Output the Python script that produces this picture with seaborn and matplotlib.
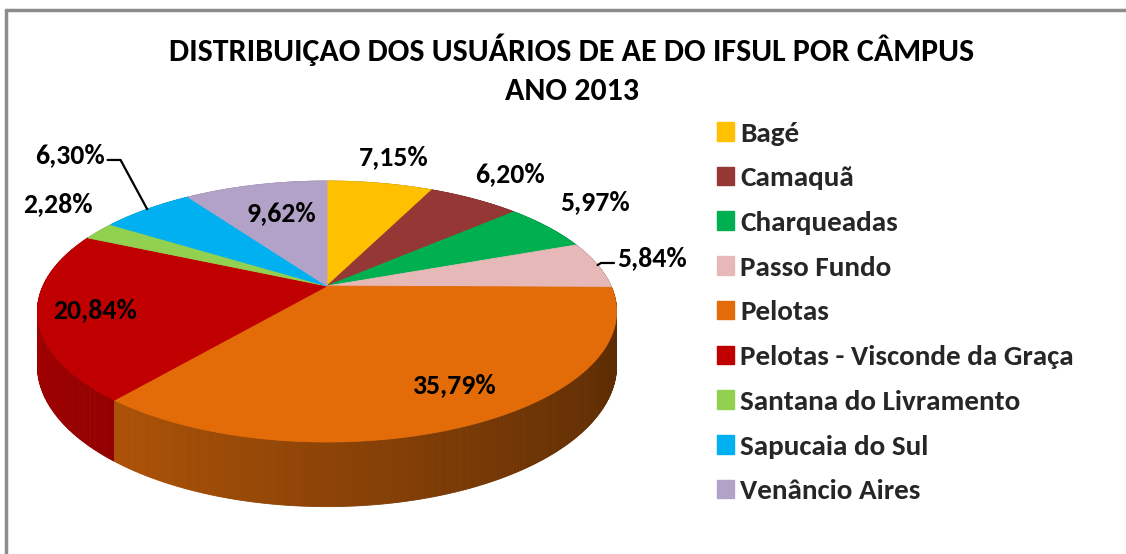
import numpy as np
import seaborn as sns
import matplotlib.pyplot as plt
from matplotlib.patches import Polygon, Patch
from matplotlib import font_manager

## Data
campi = ['Bagé', 'Camaquã', 'Charqueadas', 'Passo Fundo', 'Pelotas',
         'Pelotas - Visconde da Graça', 'Santana do Livramento',
         'Sapucaia do Sul', 'Venâncio Aires']
percent = [7.15, 6.20, 5.97, 5.84, 35.79, 20.84, 2.28, 6.30, 9.62]
colors = ['#FFC000', '#953735', '#00B050', '#E6B9B8', '#E36C09',
          '#C00000', '#92D050', '#00B0F0', '#B3A2C7']
title = 'DISTRIBUIÇAO DOS USUÁRIOS DE AE DO IFSUL POR CÂMPUS\nANO 2013'

# label placement (radius factor, angle nudge in deg, leader line)
lab_r = [1.32, 1.33, 1.33, 1.093, 0.79, 0.81, 1.32, 1.64, 0.68]
lab_da = [0, 1, 4, 2.4, 4.7, 0, -6, -9.1, -2]
leader = [False, False, False, True, False, False, False, True, False]

sns.set_theme(style='white')
installed = {f.name for f in font_manager.fontManager.ttflist}
fam = [f for f in ['Carlito', 'Lato', 'DejaVu Sans'] if f in installed]
plt.rcParams['font.family'] = fam

# 3D pie geometry (pixels)
cx, cy = 327, 286
A, B, K, C = 284, 125.5, 0.1955, 52


def proj(ang, r=1.0, z=0.0):
    u = r * np.cos(np.radians(ang))
    v = r * np.sin(np.radians(ang))
    s = 1.0 / (1.0 + K * v)
    return cx + A * u * s, cy - (B * v + C * z) * s


def shade(col, ang):
    rgb = np.array(sns.color_palette([col])[0])
    u = np.cos(np.radians(ang))
    f = 0.84 - 0.22 * (u + 1)
    return tuple(rgb * f)


fig = plt.figure(figsize=(11.26, 5.54), dpi=100)
ax = fig.add_axes([0, 0, 1, 1])
ax.set_xlim(0, 1126)
ax.set_ylim(554, 0)
ax.axis('off')

vals = np.array(percent)
bounds = 90 - 360 * np.concatenate([[0], np.cumsum(vals)]) / vals.sum()
mids = (bounds[:-1] + bounds[1:]) / 2

# side walls, back to front
segs = []
for i, col in enumerate(colors):
    a0, a1 = bounds[i], bounds[i + 1]
    n = max(2, int(abs(a0 - a1) * 2))
    angs = np.linspace(a0, a1, n + 1)
    for j in range(n):
        b0, b1 = angs[j], angs[j + 1]
        quad = [proj(b0), proj(b1), proj(b1, z=-1), proj(b0, z=-1)]
        segs.append((np.sin(np.radians((b0 + b1) / 2)), quad, shade(col, (b0 + b1) / 2)))
segs.sort(key=lambda t: -t[0])
for _, quad, c in segs:
    ax.add_patch(Polygon(quad, closed=True, facecolor=c, edgecolor=c, lw=0.6))

# top surfaces
for i, col in enumerate(colors):
    angs = np.linspace(bounds[i], bounds[i + 1], 120)
    pts = [(cx, cy)] + [proj(a) for a in angs]
    ax.add_patch(Polygon(pts, closed=True, facecolor=col, edgecolor=col, lw=0.6))

# labels
for i in range(len(percent)):
    lx, ly = proj(mids[i] + lab_da[i], lab_r[i])
    txt = f'{percent[i]:.2f}%'.replace('.', ',')
    if leader[i]:
        side = 1 if np.cos(np.radians(mids[i])) > 0 else -1
        ex, ey = proj(mids[i], 1.0)
        ax.plot([ex, lx - side * 16, lx - side * 3], [ey, ly + 5, ly + 5],
                color='black', lw=1.6)
        ax.text(lx, ly, txt, ha='left' if side > 0 else 'right', va='center',
                fontsize=20, fontweight='semibold', color='black')
    else:
        ax.text(lx, ly, txt, ha='center', va='center', fontsize=20,
                fontweight='semibold', color='black')

ax.text(572, 69, title, ha='center', va='center', fontsize=23,
        fontweight='bold', linespacing=1.5, color='black')

handles = [Patch(facecolor=c, edgecolor=c) for c in colors]
ax.legend(handles, campi, loc='upper left', bbox_to_anchor=(702 / 1126, 1 - 107 / 554),
          frameon=False, handlelength=0.6, handleheight=0.6,
          handletextpad=0.22, labelspacing=0.71, borderpad=0,
          prop={'weight': 'bold', 'size': 21})

# chart frame (top and left edges)
ax.plot([6, 1126], [10, 10], color='#8c8c8c', lw=2.5)
ax.plot([6, 6], [10, 554], color='#8c8c8c', lw=2.5)

plt.savefig('out.png', dpi=100)
